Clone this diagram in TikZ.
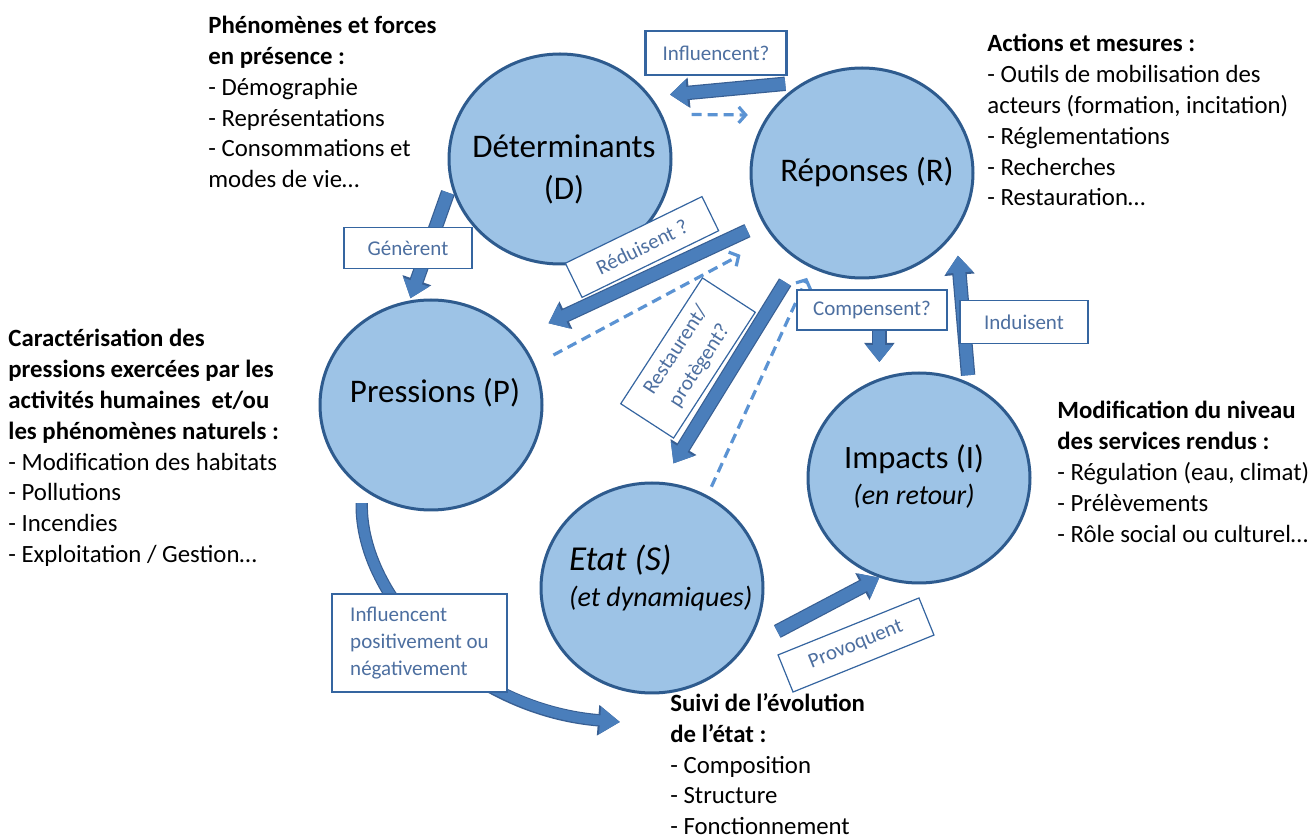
\documentclass[tikz,border=0pt]{standalone}
\usepackage{fontspec}
\setmainfont{Carlito}
\usetikzlibrary{shapes.geometric}
\usetikzlibrary{arrows.meta}

\definecolor{circfill}{HTML}{9DC3E6}
\definecolor{circline}{HTML}{2E5B8E}
\definecolor{arrowblue}{HTML}{4A7EBB}
\definecolor{arrowedge}{HTML}{385F93}
\definecolor{dashblue}{HTML}{5B93D3}
\definecolor{boxline}{HTML}{3565A0}
\definecolor{verbtext}{HTML}{4D6FA0}

\begin{document}
\begin{tikzpicture}[x=0.5pt, y=-0.5pt,
    stage/.style={ellipse, draw=circline, fill=circfill, line width=1.5pt, minimum width=111pt, minimum height=105pt, inner sep=0pt, outer sep=0pt},
    stagetext/.style={font=\fontsize{16.5}{21}\selectfont, align=center},
    blockarrow/.style={draw=arrowblue, line width=6pt, -{Triangle[width=13pt,length=8.5pt]},
        preaction={draw=arrowedge, line width=7.2pt, -{Triangle[width=14.6pt,length=9.6pt]}}},
    bendarrow/.style={draw=arrowblue, line width=5pt, -{Triangle[width=13pt,length=10pt]},
        preaction={draw=arrowedge, line width=6.2pt, -{Triangle[width=14.6pt,length=11pt]}}},
    dasharrow/.style={draw=dashblue, line width=1.6pt, dash pattern=on 5pt off 3pt, -{Straight Barb[width=8pt,length=3.5pt]}},
    verb/.style={draw=boxline, fill=white, line width=0.8pt, text=verbtext, font=\fontsize{10.5}{13.5}\selectfont, inner sep=2pt},
    notes/.style={anchor=north west, align=left, inner sep=0pt, font=\fontsize{12.4}{15.4}\selectfont}]
    \useasboundingbox (0,0) rectangle (1314,839);

    %%% Stages %%%
    \node[stage] (D) at (560,159) {}; % Determinants
    \node[stage] (R) at (862,173) {}; % Reponses
    \node[stage] (P) at (431,405) {}; % Pressions
    \node[stage] (S) at (652,588) {}; % Etat
    \node[stage] (I) at (919,478) {}; % Impacts

    \node[stagetext] (Dlab) at (564,169) {Déterminants\\(D)};
    \node[stagetext] (Rlab) at (867,172) {Réponses (R)};
    \node[stagetext] (Plab) at (435,393) {Pressions (P)};
    \node[stagetext, font=\fontsize{14}{18}\selectfont] (Ilab) at (914,477) {{\fontsize{16.3}{18}\selectfont Impacts (I)}\\\textit{(en retour)}};
    \node[stagetext, anchor=west, align=left, font=\fontsize{14}{18}\selectfont\itshape] (Slab) at (562,578) {{\fontsize{17.5}{18}\selectfont Etat (S)}\\(et dynamiques)};

    %%% Links %%%
    \draw[blockarrow, shorten <=11pt, shorten >=10.4pt] (R.121) -- (D.35);
    \draw[dasharrow, shorten <=15.6pt, shorten >=10.8pt] (D.24) -- (R.148);
    \draw[blockarrow, shorten <=5.6pt, shorten >=2pt] (D.192) -- (P.102);
    \draw[blockarrow, shorten <=9.3pt, shorten >=17.6pt] (R.207) -- (P.38);
    \draw[dasharrow, shorten <=11.1pt, shorten >=19pt] (P.21) -- (R.216);
    \draw[blockarrow, shorten <=13.3pt, shorten >=11.7pt] (R.234) -- (S.85);
    \draw[dasharrow, shorten <=5.5pt, shorten >=6.1pt] (S.59) -- (R.242);
    \draw[blockarrow, shorten <=4.5pt, shorten >=13.2pt] (I.62) -- (R.-31);
    \draw[blockarrow, shorten <=20.4pt, shorten >=1pt] (S.-35) -- (I.249);
    \coordinate (sIn) at (620,722);
    \draw[bendarrow, shorten <=8pt] (P.230) .. controls (360,600) and (470,710) .. (sIn);

    %%% Verbs %%%
    \node[verb, line width=1.2pt, minimum width=70.5pt, minimum height=22pt] (vInfl) at (716,53) {Influencent?};
    \node[verb, minimum width=64pt, minimum height=20.5pt] (vGen) at (408,248) {Génèrent};
    \node[verb, rotate=26, line width=0.6pt, minimum width=76pt, minimum height=19pt] (vRed) at (642,247) {Réduisent ?};
    \node[verb, rotate=57, line width=0.6pt, minimum width=75pt, minimum height=31.5pt, align=center, font=\fontsize{10.5}{14}\selectfont] (vRest) at (688,358) {Restaurent/\\protègent?};
    \node[verb, minimum width=75pt, minimum height=20pt] (vComp) at (872,310) {Compensent?};
    \node[verb, minimum width=64pt, minimum height=21.5pt] (vInd) at (1024,322) {Induisent};
    \node[verb, rotate=22, line width=0.6pt, minimum width=76pt, minimum height=20pt] (vProv) at (856,645) {Provoquent};
    \node[verb, minimum width=87.5pt, minimum height=49pt, align=left] (vPos) at (419.5,643) {Influencent\\positivement ou\\négativement};
    \draw[blockarrow, shorten >=8.9pt] (vComp.south -| I.112) -- (I.112);

    %%% Notes %%%
    \node[notes] (tD) at (208,16) {\textbf{Phénomènes et forces}\\\textbf{en présence :}\\- Démographie\\- Représentations\\- Consommations et\\modes de vie…};
    \node[notes] (tR) at (987,34) {\textbf{Actions et mesures :}\\- Outils de mobilisation des\\acteurs (formation, incitation)\\- Réglementations\\- Recherches\\- Restauration…};
    \node[notes] (tP) at (8,329) {\textbf{Caractérisation des}\\\textbf{pressions exercées par les}\\\textbf{activités humaines\ \ et/ou}\\\textbf{les phénomènes naturels :}\\- Modification des habitats\\- Pollutions\\- Incendies\\- Exploitation / Gestion…};
    \node[notes] (tI) at (1057,401) {\textbf{Modification du niveau}\\\textbf{des services rendus :}\\- Régulation (eau, climat)\\- Prélèvements\\- Rôle social ou culturel…};
    \node[notes] (tS) at (670,693) {\textbf{Suivi de l’évolution}\\\textbf{de l’état :}\\- Composition\\- Structure\\- Fonctionnement};
\end{tikzpicture}
\end{document}
